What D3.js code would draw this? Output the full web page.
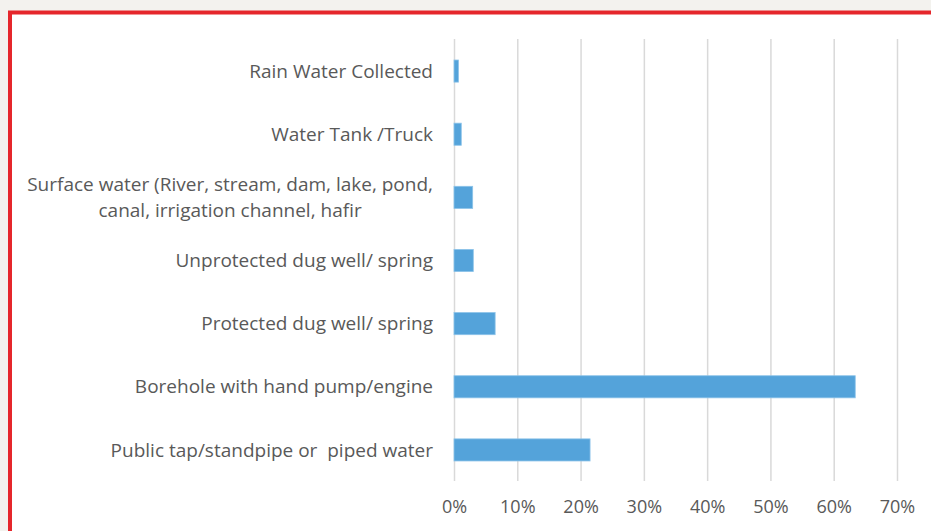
<!DOCTYPE html>
<html><head><meta charset="utf-8">
<script src="https://cdn.jsdelivr.net/npm/d3@7"></script>
<style>
html,body{margin:0;padding:0;background:#f3f2ee;}
svg{display:block;}
text{white-space:pre;}
</style></head>
<body>
<svg id="chart" width="931" height="531"></svg>
<script>
const categories = [
  ["Rain Water Collected"],
  ["Water Tank /Truck"],
  ["Surface water (River, stream, dam, lake, pond,", "canal, irrigation channel, hafir"],
  ["Unprotected dug well/ spring"],
  ["Protected dug well/ spring"],
  ["Borehole with hand pump/engine"],
  ["Public tap/standpipe or  piped water"]
];
const values = [0.007, 0.0115, 0.0295, 0.0305, 0.065, 0.634, 0.215];
const tickValues = [0, 0.1, 0.2, 0.3, 0.4, 0.5, 0.6, 0.7];

const svg = d3.select("#chart");
// frame
svg.append("rect").attr("x", 10).attr("y", 12.5).attr("width", 940).attr("height", 540)
  .attr("fill", "#ffffff").attr("stroke", "#e5262b").attr("stroke-width", 4);

const x = d3.scaleLinear().domain([0, 0.7]).range([454, 897]);
const y = d3.scaleBand().domain(d3.range(categories.length)).range([39.5, 481.5]).paddingInner(0.65).paddingOuter(0.325);

// gridlines
const ax = d3.axisBottom(x).tickValues(tickValues).tickFormat(d3.format(".0%"))
  .tickSize(-(481 - 39)).tickPadding(19);
const g = svg.append("g").attr("transform", "translate(0,481)").call(ax);
g.select(".domain").remove();
g.selectAll(".tick line").attr("stroke", "#d9d9d9").attr("stroke-width", 1.5);
g.selectAll(".tick text").attr("fill", "#595959").attr("font-family", "'Open Sans', Lato, sans-serif")
  .attr("font-size", 18).attr("dy", "0.71em");

// bars
svg.append("g").selectAll("rect").data(values).join("rect")
  .attr("x", x(0)).attr("y", (d, i) => y(i))
  .attr("width", d => x(d) - x(0)).attr("height", y.bandwidth())
  .attr("fill", "#54a3da").attr("stroke", "#8cc3e9").attr("stroke-width", 0.8);

// category labels
const lab = svg.append("g").attr("font-family", "'Open Sans', Lato, sans-serif").attr("font-size", 19)
  .attr("fill", "#595959");
const labelRight = 433;
categories.forEach((lines, i) => {
  const cy = y(i) + y.bandwidth() / 2;
  const n = lines.length;
  const first = lab.append("text").attr("x", labelRight).attr("y", cy + (0 - (n - 1) / 2) * 26)
    .attr("dy", "0.35em").attr("text-anchor", "end").text(lines[0]);
  const w = first.node().getComputedTextLength();
  const center = labelRight - w / 2;
  lines.slice(1).forEach((t, k) => {
    const j = k + 1;
    lab.append("text").attr("x", center).attr("y", cy + (j - (n - 1) / 2) * 26)
      .attr("dy", "0.35em").attr("text-anchor", "middle").text(t);
  });
});
</script>
</body></html>
